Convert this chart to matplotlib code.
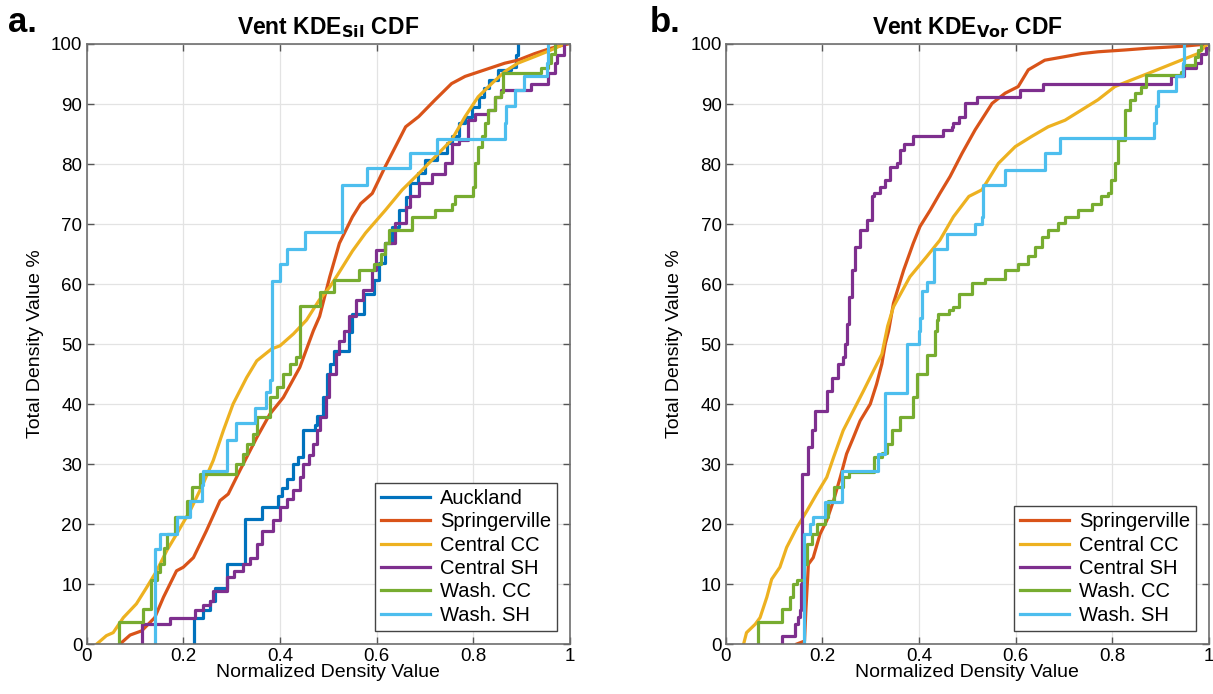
import matplotlib
matplotlib.use("Agg")
import matplotlib.pyplot as plt

plt.rcParams['font.family'] = ['Liberation Sans', 'DejaVu Sans']

# MATLAB default colour order
colors = {
    'Auckland': '#0072BD',
    'Springerville': '#D95319',
    'Central CC': '#EDB120',
    'Central SH': '#7E2F8E',
    'Wash. CC': '#77AC30',
    'Wash. SH': '#4DBEEE',
}

# ---------- panel a: Vent KDE_Sil ----------
sil_auck_x = [0.223, 0.223, 0.24, 0.255, 0.266, 0.29, 0.328, 0.362, 0.395, 0.405, 0.414, 0.428, 0.438, 0.448,
              0.472, 0.476, 0.49, 0.497, 0.503, 0.512, 0.543, 0.55, 0.574, 0.595, 0.605, 0.618, 0.632, 0.646,
              0.66, 0.67, 0.685, 0.70, 0.725, 0.745, 0.756, 0.77, 0.783, 0.797, 0.811, 0.822, 0.832, 0.851,
              0.879, 0.889, 0.892]
sil_auck_y = [0, 4.4, 5.6, 7.2, 9.4, 13.3, 20.8, 22.8, 24.7, 26, 27.5, 30, 31.1, 35.6,
              36.5, 38, 41.1, 45, 46.7, 48.9, 52, 55, 58.4, 60.7, 63.5, 66.8, 69.5, 72.3,
              74.5, 76.8, 78.5, 80.7, 81.8, 83.5, 84.6, 86.8, 87.9, 89.5, 91.2, 92.6, 94, 95.7,
              96.2, 98.2, 100]

sil_spr_x = [0.069, 0.09, 0.114, 0.141, 0.159, 0.186, 0.2, 0.221, 0.248, 0.276, 0.293, 0.317, 0.352, 0.379,
             0.407, 0.441, 0.469, 0.482, 0.503, 0.523, 0.55, 0.567, 0.591, 0.618, 0.646, 0.66, 0.687,
             0.721, 0.755, 0.783, 0.824, 0.865, 0.892, 0.927, 0.961, 0.995]
sil_spr_y = [0, 1.5, 2.2, 4.4, 7.8, 12.2, 12.8, 14.4, 18.9, 23.9, 25, 28.9, 34.4, 38.3,
             41.1, 46.1, 52.2, 54.6, 61.2, 66.8, 71.2, 73.4, 75.1, 79.6, 84, 86.2, 87.9,
             90.7, 93.4, 94.6, 95.7, 96.8, 97.3, 98.4, 99.3, 100]

sil_ccc_x = [0.021, 0.041, 0.055, 0.076, 0.103, 0.124, 0.145, 0.166, 0.186, 0.214, 0.241, 0.262, 0.283,
             0.303, 0.331, 0.352, 0.383, 0.40, 0.428, 0.455, 0.481, 0.503, 0.519, 0.55, 0.577, 0.618,
             0.653, 0.687, 0.721, 0.755, 0.783, 0.81, 0.838, 0.865, 0.892, 0.927, 0.961, 0.988]
sil_ccc_y = [0, 1.4, 1.9, 4.4, 6.7, 9.4, 12.2, 15.6, 18.3, 22.2, 26.7, 30.6, 35.6,
             40, 44.4, 47.2, 49.2, 49.7, 51.7, 54, 57.3, 59.5, 61.5, 65.5, 68.5, 72.3,
             75.7, 78.4, 81.2, 84, 87.9, 91.2, 93.4, 95.4, 96.8, 97.9, 99, 100]

sil_csh_x = [0.114, 0.114, 0.172, 0.224, 0.24, 0.255, 0.262, 0.29, 0.305, 0.324, 0.338, 0.352, 0.362, 0.386,
             0.4, 0.414, 0.428, 0.441, 0.448, 0.46, 0.469, 0.476, 0.483, 0.495, 0.502, 0.516, 0.523, 0.533,
             0.543, 0.557, 0.571, 0.591, 0.598, 0.618, 0.639, 0.66, 0.67, 0.687, 0.714, 0.742, 0.755,
             0.77, 0.79, 0.803, 0.831, 0.845, 0.858, 0.92, 0.954, 0.968, 0.974, 0.988]
sil_csh_y = [0, 3.3, 4.4, 5.6, 6.5, 7.2, 8.9, 11.1, 12.2, 13.3, 14.4, 16.7, 18.9, 20.6,
             22.8, 24.2, 25.6, 27.8, 30, 31.5, 33.3, 35.6, 37.8, 41.1, 45, 48.3, 50.5, 52.2,
             54.6, 57.3, 59, 62.3, 65.7, 66.8, 70.1, 72.9, 74.6, 76.8, 78.4, 80.1, 83.4,
             84, 87.3, 88.4, 89, 91.2, 92.3, 93.4, 95.1, 96.8, 98.2, 100]

sil_wcc_x = [0.066, 0.066, 0.117, 0.134, 0.145, 0.152, 0.16, 0.166, 0.183, 0.207, 0.217, 0.234, 0.31, 0.324,
             0.331, 0.345, 0.352, 0.379, 0.393, 0.407, 0.421, 0.434, 0.441, 0.483, 0.512, 0.564, 0.595,
             0.61, 0.618, 0.625, 0.673, 0.721, 0.755, 0.762, 0.8, 0.803, 0.81, 0.817, 0.824, 0.831, 0.845,
             0.858, 0.862, 0.94, 0.954, 0.961, 0.968]
sil_wcc_y = [0, 3.6, 5.8, 10.6, 12, 13.3, 16, 18.3, 21.1, 23.9, 26.1, 28.3, 30, 31.7,
             33.3, 35, 37.8, 41.1, 42.8, 45, 46.7, 47.8, 56.3, 58.7, 60.7, 62.3, 63.4,
             65, 66.8, 69, 71.2, 72.3, 73.4, 74.6, 76.2, 80.1, 82.9, 84.6, 86.8, 89, 91.2,
             92, 95.1, 96, 96.8, 98.4, 100]

sil_wsh_x = [0.141, 0.141, 0.152, 0.186, 0.214, 0.238, 0.241, 0.29, 0.31, 0.348, 0.372, 0.38, 0.383, 0.4,
             0.414, 0.452, 0.529, 0.58, 0.67, 0.725, 0.865, 0.868, 0.887, 0.904, 0.952, 0.955]
sil_wsh_y = [0, 15.8, 18.3, 21.1, 23.9, 26.5, 28.9, 34, 36.8, 39.4, 42, 44, 60.5, 63.4,
             65.9, 68.6, 76.5, 79.3, 81.8, 84.2, 86.8, 89.6, 92.3, 94.6, 96.8, 100]

# ---------- panel b: Vent KDE_Vor ----------
vor_spr_x = [0.147, 0.163, 0.166, 0.171, 0.181, 0.195, 0.209, 0.223, 0.237, 0.25, 0.264, 0.278, 0.299, 0.312,
             0.323, 0.33, 0.337, 0.347, 0.368, 0.388, 0.402, 0.423, 0.443, 0.464, 0.489, 0.516, 0.551,
             0.578, 0.605, 0.626, 0.66, 0.702, 0.736, 0.77, 0.825, 0.874, 0.942, 0.997]
vor_spr_y = [0, 0.5, 6, 13.3, 14.4, 18.3, 20.6, 23.9, 27.8, 31.7, 34.4, 37.2, 40, 43.3,
             46.7, 50, 52.2, 56.8, 62.3, 66.8, 69.6, 72.3, 75.1, 77.9, 81.8, 85.7, 90.1,
             91.8, 92.9, 95.7, 97.3, 97.9, 98.4, 98.7, 99, 99.3, 99.6, 100]

vor_ccc_x = [0.037, 0.043, 0.061, 0.071, 0.085, 0.095, 0.112, 0.126, 0.147, 0.168, 0.188, 0.209, 0.223,
             0.243, 0.264, 0.285, 0.306, 0.323, 0.335, 0.347, 0.381, 0.416, 0.443, 0.471, 0.503, 0.53,
             0.564, 0.599, 0.633, 0.667, 0.702, 0.736, 0.77, 0.805, 0.839, 0.874, 0.908, 0.942, 0.977, 0.997]
vor_ccc_y = [0, 1.9, 3.3, 4.4, 7.8, 10.8, 12.8, 16.1, 19.4, 22.2, 25, 27.8, 31.1,
             35.6, 38.9, 42.2, 45.6, 48.3, 53, 56.2, 61.2, 64.6, 67.3, 71.2, 74.6, 75.7,
             80.1, 82.9, 84.6, 86.2, 87.3, 89, 90.7, 92.9, 94, 95.1, 96.2, 97.3, 98.4, 100]

vor_csh_x = [0.116, 0.116, 0.143, 0.15, 0.154, 0.155, 0.157, 0.171, 0.178, 0.185, 0.209, 0.219, 0.233, 0.243,
             0.247, 0.25, 0.254, 0.261, 0.268, 0.278, 0.292, 0.302, 0.306, 0.319, 0.33, 0.34, 0.354,
             0.361, 0.368, 0.388, 0.45, 0.468, 0.471, 0.482, 0.496, 0.52, 0.609, 0.657, 0.921, 0.949,
             0.973, 0.984, 0.994, 1.0]
vor_csh_y = [0, 1.4, 3.3, 4.5, 5.6, 10, 28.3, 32.8, 35.6, 38.9, 42.2, 44.4, 46.7, 47.8,
             50, 53.4, 57.9, 62.3, 66.2, 69, 70.7, 74.6, 75.1, 76.2, 77.3, 79.5, 80.1,
             82.3, 83.4, 84.6, 85.7, 86.2, 86.8, 87.9, 90.1, 91.2, 92.3, 93.4, 94.6, 96,
             96.8, 98.4, 99.3, 100]

vor_wcc_x = [0.066, 0.066, 0.116, 0.133, 0.14, 0.147, 0.161, 0.168, 0.178, 0.188, 0.206, 0.212, 0.223, 0.243,
             0.254, 0.306, 0.323, 0.333, 0.343, 0.361, 0.388, 0.395, 0.416, 0.433, 0.437, 0.44, 0.461,
             0.471, 0.482, 0.509, 0.537, 0.578, 0.605, 0.626, 0.64, 0.654, 0.667, 0.688, 0.702, 0.729,
             0.757, 0.777, 0.791, 0.798, 0.805, 0.812, 0.825, 0.836, 0.846, 0.86, 0.87, 0.942, 0.946,
             0.97, 0.977, 0.984]
vor_wcc_y = [0, 3.6, 5.8, 7.8, 10, 10.6, 13.3, 16.7, 18.3, 20, 21.1, 23.9, 26.1, 27.8,
             28.6, 31.1, 31.9, 33.3, 35.6, 37.8, 41.1, 45, 48.1, 52.2, 54, 55, 55.7,
             56.2, 58.4, 60.1, 60.9, 62.3, 63.4, 64.6, 66.2, 67.9, 69, 70.1, 71.2, 72.3,
             73.4, 74.6, 75.1, 77.3, 80.1, 84, 89, 90.7, 91.8, 92.9, 94.8, 95.4, 96.5,
             97.9, 99, 100]

vor_wsh_x = [0.161, 0.161, 0.174, 0.181, 0.206, 0.24, 0.316, 0.33, 0.374, 0.399, 0.402, 0.406, 0.416, 0.43,
             0.457, 0.516, 0.53, 0.533, 0.578, 0.66, 0.691, 0.887, 0.891, 0.894, 0.932, 0.946, 0.949]
vor_wsh_y = [0, 18.3, 20, 21.1, 23.6, 28.9, 31.6, 41.9, 50, 52.2, 54.4, 58.8, 60.4, 65.9,
             68.4, 70, 71.2, 76.5, 79, 81.8, 84.3, 86.8, 89.6, 92.1, 94.6, 96.8, 100]

panel_a = [
    ('Auckland', sil_auck_x, sil_auck_y, True),
    ('Springerville', sil_spr_x, sil_spr_y, False),
    ('Central CC', sil_ccc_x, sil_ccc_y, False),
    ('Central SH', sil_csh_x, sil_csh_y, True),
    ('Wash. CC', sil_wcc_x, sil_wcc_y, True),
    ('Wash. SH', sil_wsh_x, sil_wsh_y, True),
]
panel_b = [
    ('Springerville', vor_spr_x, vor_spr_y, False),
    ('Central CC', vor_ccc_x, vor_ccc_y, False),
    ('Central SH', vor_csh_x, vor_csh_y, True),
    ('Wash. CC', vor_wcc_x, vor_wcc_y, True),
    ('Wash. SH', vor_wsh_x, vor_wsh_y, True),
]

fig = plt.figure(figsize=(12.13, 6.94), dpi=100)
ax1 = fig.add_axes([0.0714, 0.072, 0.3985, 0.8646])
ax2 = fig.add_axes([0.5983, 0.072, 0.3985, 0.8646])


def draw(ax, series, sub):
    for name, xs, ys, stepped in series:
        if stepped:
            ax.step(xs, ys, where='post', color=colors[name], lw=2.3, label=name)
        else:
            ax.plot(xs, ys, color=colors[name], lw=2.3, label=name)
    ax.set_xlim(0, 1)
    ax.set_ylim(0, 100)
    ax.set_xticks([0, 0.2, 0.4, 0.6, 0.8, 1])
    ax.set_xticklabels(['0', '0.2', '0.4', '0.6', '0.8', '1'])
    ax.set_yticks(range(0, 101, 10))
    ax.grid(True, color='#e3e3e3', lw=0.9)
    ax.set_axisbelow(True)
    ax.tick_params(direction='in', top=True, right=True, length=5, width=1,
                   color='#555555', labelsize=13.5, pad=3)
    for s in ax.spines.values():
        s.set_color('#6e6e6e')
        s.set_linewidth(1.2)
    ax.set_xlabel('Normalized Density Value', fontsize=14, labelpad=-1)
    ax.set_ylabel('Total Density Value %', fontsize=14, labelpad=5)
    ax.set_title(r'Vent KDE$_{\mathbf{' + sub + r'}}$ CDF', fontsize=16.5, fontweight='bold', pad=7)
    leg = ax.legend(loc='lower right', fontsize=14.5, fancybox=False, framealpha=1,
                    edgecolor='#444444', handlelength=2.4, borderpad=0.3,
                    labelspacing=0.22, handletextpad=0.5, borderaxespad=0.65)
    leg.get_frame().set_linewidth(1.0)


draw(ax1, panel_a, 'Sil')
draw(ax2, panel_b, 'Vor')

fig.text(0.007, 0.968, 'a.', fontsize=25, fontweight='bold', va='center')
fig.text(0.536, 0.968, 'b.', fontsize=25, fontweight='bold', va='center')

fig.savefig('out.png', dpi=100)
